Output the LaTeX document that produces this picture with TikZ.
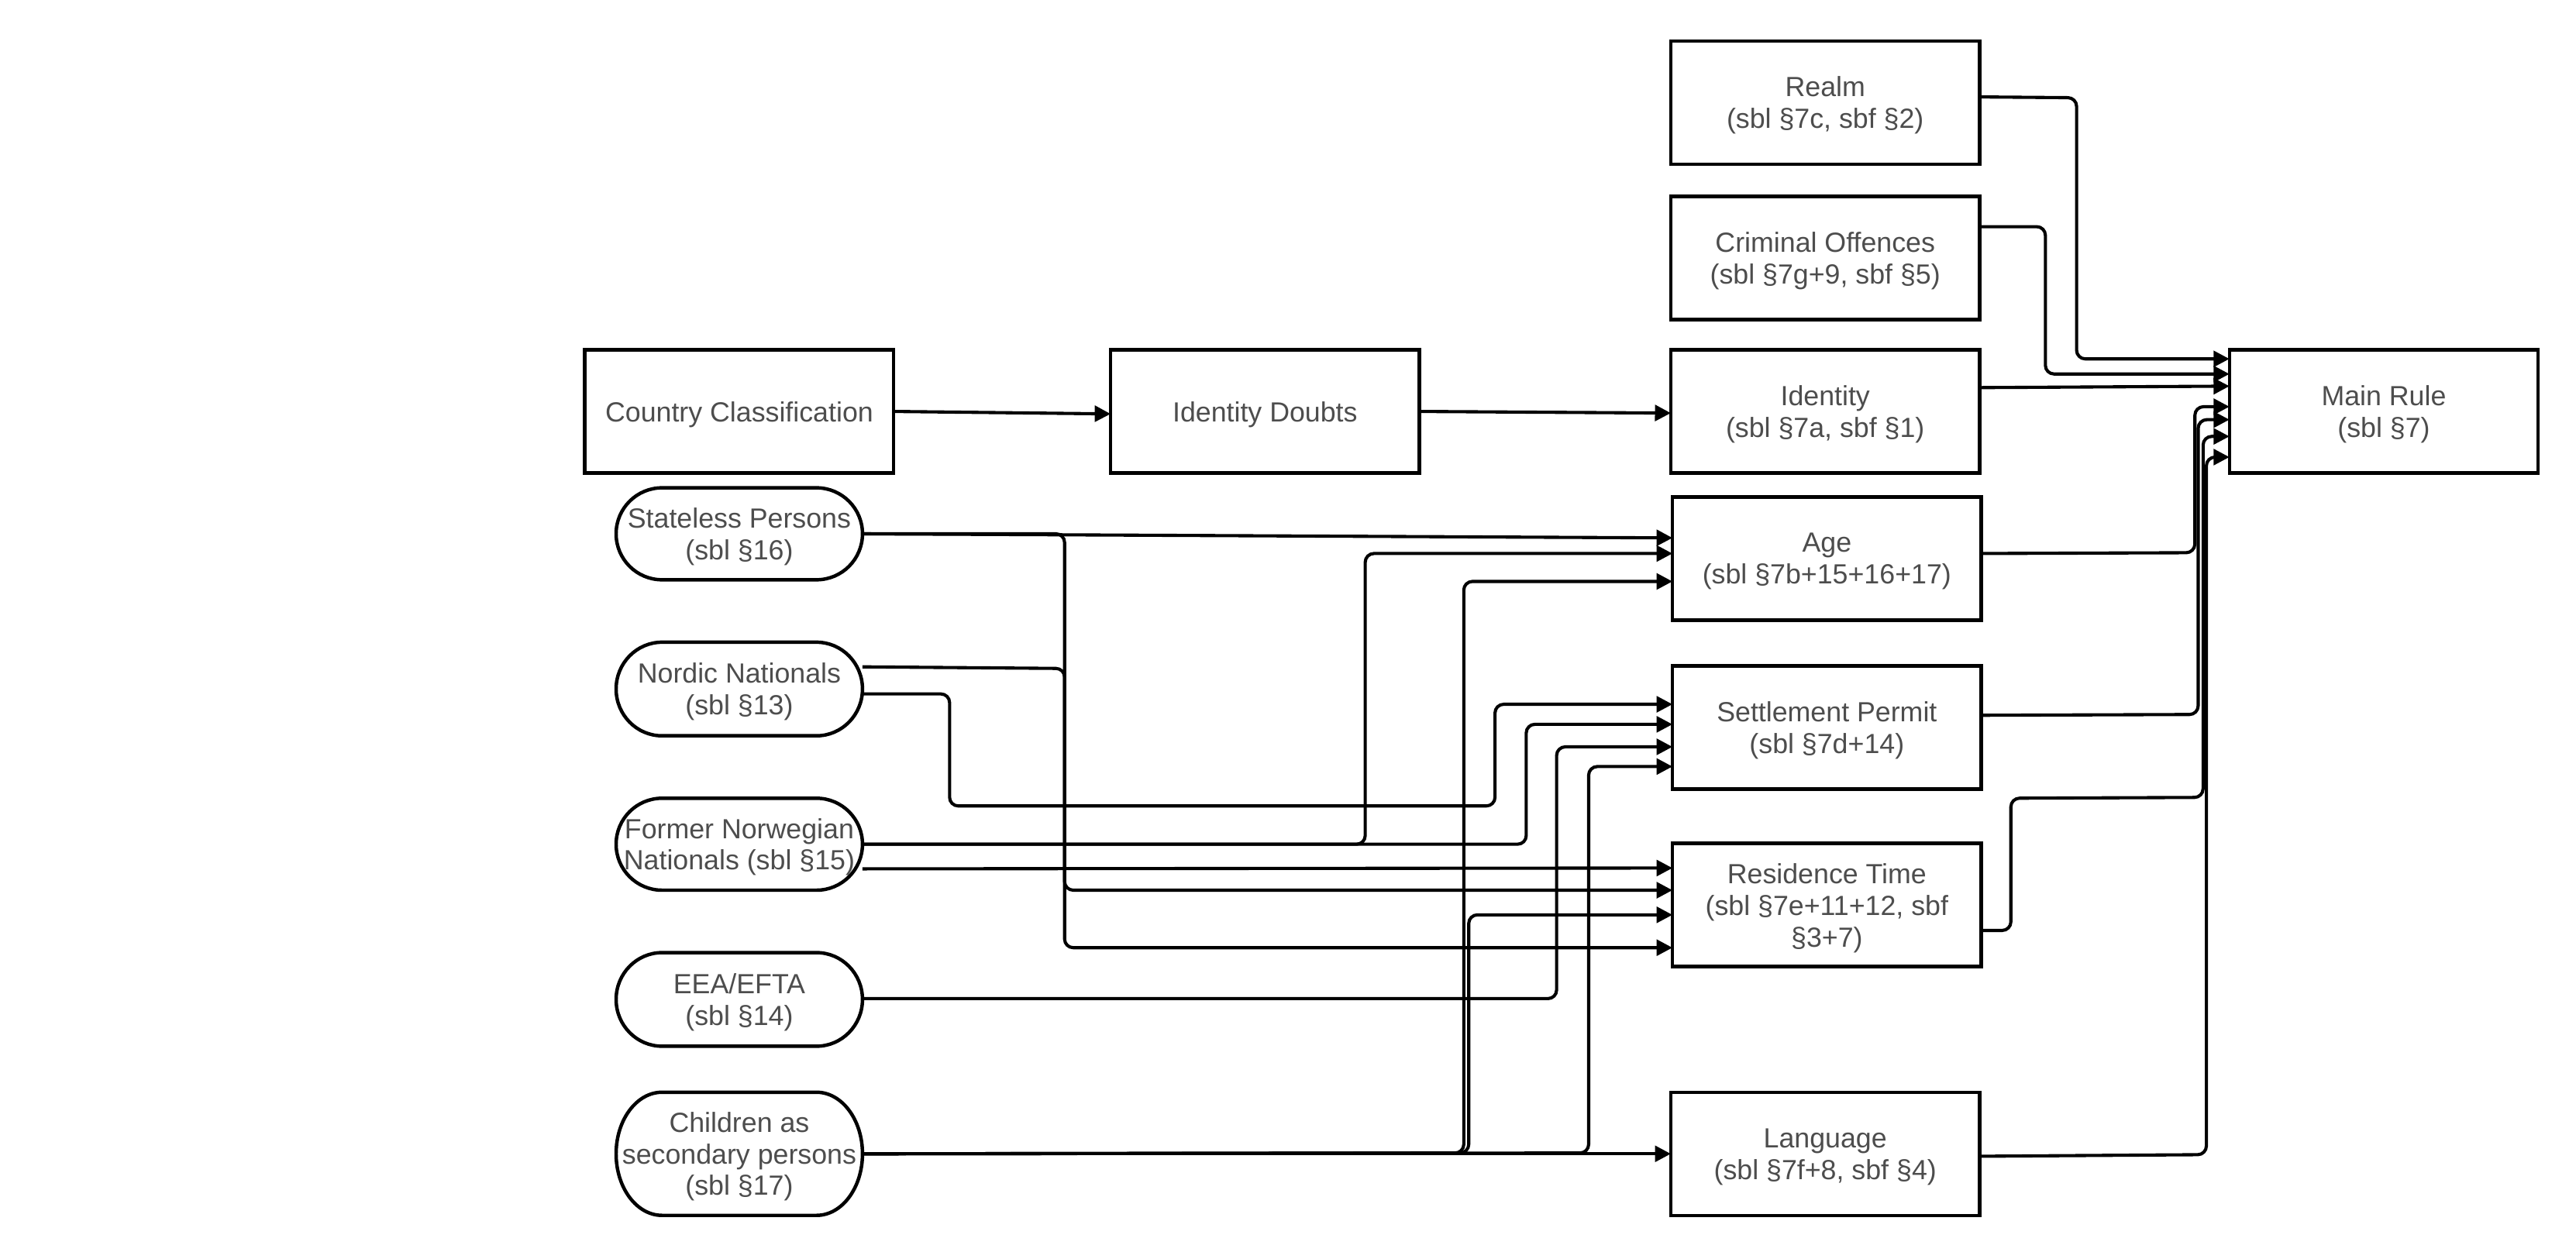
\documentclass[tikz,border=0pt]{standalone}
\usepackage{fontspec}
\setmainfont{Liberation Sans}
\usetikzlibrary{arrows.meta}
\definecolor{txt}{HTML}{4D4D4D}
\newcommand{\drawpill}[2]{%
  \draw[boxline] ([xshift=0.56cm]#1.north west) -- ([xshift=-0.56cm]#1.north east)
    arc[start angle=90,end angle=-90,x radius=0.56cm,y radius=#2]
    -- ([xshift=0.56cm]#1.south west)
    arc[start angle=270,end angle=90,x radius=0.56cm,y radius=#2] -- cycle;}
\begin{document}
\begin{tikzpicture}[x=0.02cm,y=-0.02cm,
  boxline/.style={line width=1.2pt,draw=black},
  rbox/.style={draw=black,line width=1.2pt,rectangle,minimum width=3.76cm,minimum height=1.5cm,
    inner sep=0pt,outer sep=0pt,align=center,text=txt,text depth=0pt,font=\fontsize{9.6}{11}\selectfont},
  pill/.style={draw=none,rectangle,minimum width=3cm,inner sep=0pt,outer sep=0pt,align=center,
    text=txt,text depth=0pt,font=\fontsize{9.6}{10.9}\selectfont},
  edge/.style={line width=1.1pt,rounded corners=3pt,-{Triangle[length=5.5pt,width=5.5pt]}}]
\fill[white] (0,0) rectangle (1568,762);
\useasboundingbox (0,0) rectangle (1568,762);
% boxes
\node[rbox] (cc) at (450,250.5) {Country Classification};
\node[rbox] (idd) at (770,250.5) {Identity Doubts};
\node[rbox] (realm) at (1111,62.5) {Realm\\(sbl §7c, sbf §2)};
\node[rbox] (crim) at (1111,157) {Criminal Offences\\(sbl §7g+9, sbf §5)};
\node[rbox] (ident) at (1111,250.5) {Identity\\(sbl §7a, sbf §1)};
\node[rbox] (age) at (1112,340) {Age\\(sbl §7b+15+16+17)};
\node[rbox] (sett) at (1112,443) {Settlement Permit\\(sbl §7d+14)};
\node[rbox] (res) at (1112,551) {Residence Time\\(sbl §7e+11+12, sbf\\§3+7)};
\node[rbox] (lang) at (1111,702.5) {Language\\(sbl §7f+8, sbf §4)};
\node[rbox] (main) at (1451,250.5) {Main Rule\\(sbl §7)};
% pills
\node[pill,minimum height=1.12cm] (stat) at (450,325) {Stateless Persons\\(sbl §16)};
\node[pill,minimum height=1.14cm] (nord) at (450,419.5) {Nordic Nationals\\(sbl §13)};
\node[pill,minimum height=1.12cm] (former) at (450,514) {Former Norwegian\\Nationals (sbl §15)};
\node[pill,minimum height=1.14cm] (eea) at (450,608.5) {EEA/EFTA\\(sbl §14)};
\node[pill,minimum height=1.5cm] (child) at (450,702.5) {Children as\\secondary persons\\(sbl §17)};
\drawpill{stat}{0.56cm}
\drawpill{nord}{0.57cm}
\drawpill{former}{0.56cm}
\drawpill{eea}{0.57cm}
\drawpill{child}{0.75cm}
% top chain
\draw[edge] (cc.east) -- (idd.west |- 0,252);
\draw[edge] (idd.east) -- (ident.west |- 0,251.5);
% left connectors
\draw[edge] (stat.east) -- (age.west |- 0,327.5);
\draw[edge] (stat.east) -- (648,325) -- (648,577) -- (res.west |- 0,577);
\draw[edge] (nord.east |- 0,406) -- (648,407) -- (648,542) -- (res.west |- 0,542);
\draw[edge] (nord.east |- 0,422.5) -- (578,422.5) -- (578,490.7) -- (910,490.7) -- (910,428.8) -- (sett.west |- 0,428.8);
\draw[edge] (former.east) -- (831,514) -- (831,337) -- (age.west |- 0,337);
\draw[edge] (former.east) -- (929,514) -- (929,441) -- (sett.west |- 0,441);
\draw[edge] (former.east |- 0,529) -- (res.west |- 0,528.5);
\draw[edge] (eea.east |- 0,608) -- (947.5,608) -- (947.5,454.7) -- (sett.west |- 0,454.7);
\draw[edge] (child.east) -- (lang.west |- 0,702.5);
\draw[edge] (child.east) -- (891,702) -- (891,354) -- (age.west |- 0,354);
\draw[edge] (child.east) -- (894,702) -- (894,557) -- (res.west |- 0,557);
\draw[edge] (child.east) -- (967,702) -- (967,466.7) -- (sett.west |- 0,466.7);
% to main rule
\draw[edge] (realm.east |- 0,59) -- (1264,59.5) -- (1264,218.5) -- (main.west |- 0,218.5);
\draw[edge] (crim.east |- 0,138) -- (1245,138) -- (1245,227.7) -- (main.west |- 0,227.7);
\draw[edge] (ident.east |- 0,236) -- (main.west |- 0,235.1);
\draw[edge] (age.east |- 0,337) -- (1336,336.5) -- (1336,247.6) -- (main.west |- 0,247.6);
\draw[edge] (sett.east |- 0,435.5) -- (1338,435) -- (1338,255.5) -- (main.west |- 0,255.5);
\draw[edge] (res.east |- 0,566.5) -- (1224,566.5) -- (1224,486) -- (1341,485.5) -- (1341,265.7) -- (main.west |- 0,265.7);
\draw[edge] (lang.east |- 0,704) -- (1343,703) -- (1343,278.3) -- (main.west |- 0,278.3);
\end{tikzpicture}
\end{document}
